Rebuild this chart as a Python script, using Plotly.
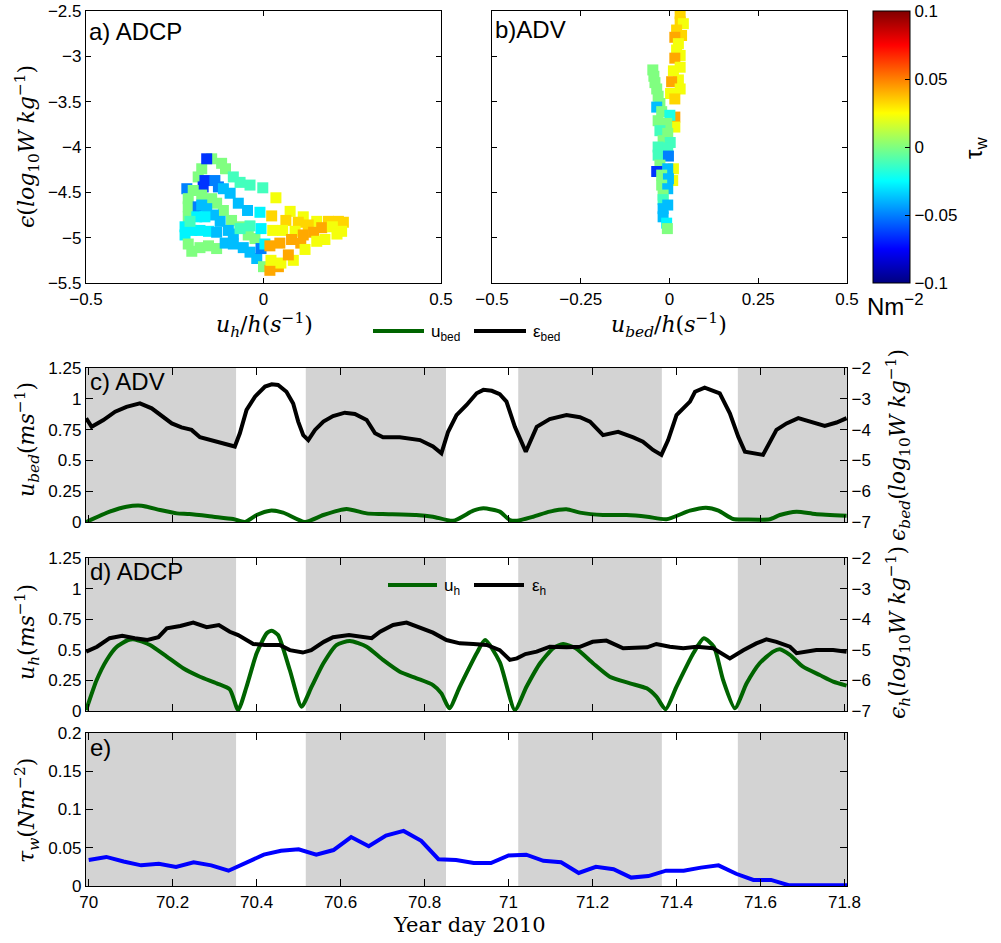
import plotly.graph_objects as go

W, H = 1001, 943

# ---------------- a) ADCP scatter: u_h/h vs eps_h, coloured by tau_w ----------------
adcp_u = [-0.146, -0.118, -0.174, -0.107, -0.184, -0.085, -0.066, -0.038, -0.002, 0.035,
          0.075, 0.112, 0.150, 0.183, 0.211, 0.225, -0.160, -0.165, -0.170, -0.137,
          -0.127, -0.113, -0.094, -0.071, -0.045, -0.010, 0.023, 0.063, 0.098, 0.126,
          0.164, 0.194, 0.220, 0.207, -0.216, -0.198, -0.212, -0.212, -0.212, -0.174,
          -0.146, -0.132, -0.113, -0.090, -0.066, -0.043, -0.024, -0.184, -0.174, -0.160,
          -0.141, -0.122, -0.099, -0.085, -0.066, -0.038, -0.007, 0.026, 0.054, 0.089,
          0.112, 0.141, 0.173, -0.221, -0.202, -0.179, -0.155, -0.132, -0.221, -0.188,
          -0.165, -0.207, -0.212, -0.202, -0.179, -0.155, -0.132, -0.108, -0.085, -0.057,
          -0.038, -0.019, -0.007, 0.004, 0.000, 0.018, 0.042, 0.021, 0.049, 0.084,
          0.070, 0.018, 0.046, 0.079, 0.105, 0.117, 0.150]
adcp_eps = [-4.13, -4.18, -4.24, -4.24, -4.33, -4.33, -4.39, -4.42, -4.45, -4.56,
            -4.71, -4.77, -4.82, -4.82, -4.82, -4.83, -4.13, -4.37, -4.44, -4.37,
            -4.44, -4.46, -4.51, -4.62, -4.70, -4.72, -4.76, -4.81, -4.83, -4.86,
            -4.89, -4.88, -4.93, -4.96, -4.46, -4.48, -4.57, -4.66, -4.77, -4.53,
            -4.57, -4.62, -4.70, -4.81, -4.88, -4.97, -5.01, -4.66, -4.64, -4.68,
            -4.75, -4.82, -4.92, -4.96, -4.90, -4.87, -4.90, -4.92, -4.92, -4.93,
            -4.97, -4.94, -5.02, -4.88, -4.92, -4.92, -4.93, -4.94, -4.97, -4.77,
            -4.77, -4.82, -5.07, -5.15, -5.11, -5.09, -5.12, -5.06, -5.07, -5.11,
            -5.16, -5.23, -5.12, -5.07, -5.32, -5.36, -5.32, -5.25, -5.28, -5.25,
            -5.19, -5.09, -5.06, -5.02, -5.06, -5.13, -5.04]
adcp_tau = [0.0, 0.0, 0.0, 0.0, 0.0, -0.012, -0.012, -0.012, -0.012, 0.023,
            0.023, 0.023, 0.023, 0.033, 0.033, 0.033, -0.065, -0.065, -0.065, -0.05,
            -0.05, -0.038, -0.038, -0.038, -0.038, -0.027, 0.033, 0.033, 0.033, 0.033,
            0.042, 0.023, 0.023, 0.023, -0.05, 0.0, 0.0, 0.0, 0.0, 0.0,
            0.0, 0.0, 0.0, 0.0, 0.0, 0.0, 0.0, -0.05, -0.038, -0.038,
            -0.038, -0.038, -0.038, -0.038, -0.012, -0.012, -0.027, 0.023, 0.023, 0.023,
            0.042, 0.042, 0.023, -0.027, -0.027, -0.027, -0.027, -0.038, -0.027, -0.027,
            -0.027, -0.012, 0.0, 0.0, 0.0, 0.0, 0.0, -0.038, -0.038, -0.038,
            -0.038, -0.038, -0.05, -0.027, 0.0, 0.042, 0.042, 0.023, 0.023, 0.023,
            0.042, 0.042, 0.042, 0.042, 0.042, 0.023, 0.023]

# ---------------- b) ADV scatter: u_bed/h vs eps_bed, coloured by tau_w ----------------
adv_u = [0.030, 0.030, 0.039, 0.020, 0.034, 0.015, 0.025, 0.020, 0.030, 0.015,
         0.030, 0.011, 0.025, 0.006, 0.030, 0.003, 0.015, 0.015, 0.015, 0.011,
         0.009, -0.047, -0.044, -0.041, -0.036, -0.032, -0.027, -0.036, -0.022, 0.001,
         -0.032, -0.008, -0.027, -0.005, -0.018, 0.002, -0.032, -0.005, -0.032, -0.003,
         -0.027, -0.005, -0.036, -0.022, -0.003, -0.022, -0.005, -0.018, -0.018, -0.018,
         -0.005, -0.018, -0.008, -0.006]
adv_eps = [-2.53, -2.62, -2.64, -2.71, -2.77, -2.79, -2.86, -2.93, -2.99, -3.02,
           -3.12, -3.16, -3.26, -3.28, -3.36, -3.41, -3.47, -3.67, -3.78, -4.24,
           -4.37, -3.15, -3.22, -3.29, -3.36, -3.44, -3.52, -3.56, -3.61, -3.65,
           -3.71, -3.74, -3.82, -3.85, -3.93, -3.95, -4.00, -4.01, -4.09, -4.10,
           -4.20, -4.24, -4.27, -4.31, -4.35, -4.42, -4.46, -4.53, -4.58, -4.68,
           -4.64, -4.77, -4.84, -4.90]
adv_tau = [0.033, 0.033, 0.023, 0.033, 0.033, 0.042, 0.023, 0.023, 0.023, 0.042,
           0.023, 0.023, 0.023, 0.042, 0.023, 0.023, 0.033, 0.042, 0.023, 0.023,
           0.023, 0.0, 0.0, 0.0, 0.0, 0.0, 0.0, -0.038, 0.0, -0.02,
           0.0, 0.0, -0.012, 0.0, 0.0, -0.012, -0.012, -0.012, -0.012, -0.05,
           0.0, -0.038, -0.065, 0.0, -0.038, 0.0, -0.038, 0.0, -0.012, -0.038,
           -0.038, -0.038, -0.027, 0.0]

# ---------------- c) ADV time series ----------------
ubed_day = [69.994, 70.05, 70.09, 70.126, 70.17, 70.21, 70.24, 70.297, 70.344, 70.372,
            70.4, 70.432, 70.463, 70.515, 70.559, 70.614, 70.662, 70.70, 70.78, 70.82,
            70.868, 70.916, 70.94, 70.979, 71.003, 71.02, 71.059, 71.098, 71.138, 71.17,
            71.225, 71.281, 71.33, 71.376, 71.432, 71.47, 71.5, 71.535, 71.565, 71.622,
            71.646, 71.686, 71.73, 71.805]
ubed = [0.0, 0.084, 0.124, 0.132, 0.097, 0.07, 0.065, 0.043, 0.024, 0.0,
        0.057, 0.092, 0.076, 0.0, 0.057, 0.105, 0.07, 0.065, 0.057, 0.043,
        0.01, 0.092, 0.111, 0.084, 0.016, 0.01, 0.043, 0.084, 0.103, 0.076,
        0.057, 0.057, 0.043, 0.022, 0.092, 0.116, 0.092, 0.024, 0.02, 0.022,
        0.057, 0.084, 0.065, 0.05]
epsbed_day = [69.994, 70.007, 70.035, 70.063, 70.09, 70.122, 70.15, 70.178, 70.198, 70.221,
              70.245, 70.265, 70.297, 70.32, 70.348, 70.36, 70.376, 70.396, 70.42, 70.436,
              70.451, 70.471, 70.487, 70.499, 70.511, 70.523, 70.539, 70.559, 70.582, 70.61,
              70.634, 70.662, 70.682, 70.701, 70.741, 70.789, 70.82, 70.84, 70.856, 70.876,
              70.9, 70.924, 70.94, 70.96, 70.979, 70.995, 71.015, 71.041, 71.067, 71.098,
              71.138, 71.17, 71.194, 71.225, 71.261, 71.297, 71.32, 71.344, 71.364, 71.38,
              71.4, 71.432, 71.444, 71.467, 71.503, 71.527, 71.547, 71.563, 71.586, 71.606,
              71.638, 71.662, 71.69, 71.721, 71.753, 71.781, 71.805]
eps_bed = [-3.63, -3.91, -3.69, -3.42, -3.26, -3.15, -3.31, -3.58, -3.80, -3.93,
           -4.01, -4.25, -4.36, -4.47, -4.55, -4.12, -3.36, -2.93, -2.60, -2.53,
           -2.55, -2.77, -3.15, -3.74, -4.18, -4.34, -4.01, -3.74, -3.56, -3.45,
           -3.49, -3.69, -4.12, -4.25, -4.25, -4.34, -4.55, -4.77, -4.07, -3.53,
           -3.20, -2.82, -2.71, -2.74, -2.85, -3.09, -3.91, -4.72, -3.91, -3.66,
           -3.53, -3.60, -3.74, -4.18, -4.07, -4.25, -4.39, -4.66, -4.82, -4.34,
           -3.53, -3.09, -2.77, -2.64, -2.82, -3.47, -4.23, -4.72, -4.77, -4.82,
           -4.01, -3.80, -3.63, -3.74, -3.88, -3.77, -3.63]

# ---------------- d) ADCP time series ----------------
uh_day = [69.994, 70.019, 70.043, 70.067, 70.094, 70.11, 70.146, 70.186, 70.225, 70.265,
          70.305, 70.336, 70.356, 70.376, 70.4, 70.424, 70.436, 70.451, 70.479, 70.507,
          70.531, 70.559, 70.59, 70.622, 70.662, 70.701, 70.741, 70.781, 70.82, 70.84,
          70.859, 70.884, 70.924, 70.944, 70.979, 71.015, 71.043, 71.075, 71.106, 71.13,
          71.16, 71.201, 71.241, 71.289, 71.329, 71.352, 71.374, 71.4, 71.44, 71.465,
          71.489, 71.511, 71.539, 71.567, 71.598, 71.63, 71.646, 71.67, 71.701, 71.741,
          71.773, 71.805]
uh = [0.008, 0.253, 0.417, 0.525, 0.58, 0.585, 0.539, 0.444, 0.349, 0.28,
      0.226, 0.177, 0.008, 0.199, 0.471, 0.635, 0.656, 0.621, 0.335, 0.035,
      0.199, 0.39, 0.539, 0.572, 0.525, 0.417, 0.321, 0.267, 0.212, 0.144,
      0.022, 0.199, 0.471, 0.58, 0.4, 0.008, 0.2, 0.39, 0.512, 0.547,
      0.512, 0.39, 0.28, 0.226, 0.185, 0.117, 0.014, 0.199, 0.471, 0.594,
      0.525, 0.253, 0.022, 0.226, 0.39, 0.485, 0.504, 0.458, 0.362, 0.294,
      0.24, 0.207]
epsh_day = [69.994, 70.02, 70.05, 70.08, 70.11, 70.14, 70.166, 70.186, 70.218, 70.249,
            70.281, 70.31, 70.336, 70.356, 70.392, 70.42, 70.455, 70.479, 70.51, 70.53,
            70.56, 70.582, 70.62, 70.646, 70.674, 70.694, 70.725, 70.757, 70.78, 70.82,
            70.852, 70.884, 70.916, 70.948, 70.979, 71.003, 71.02, 71.04, 71.067, 71.098,
            71.138, 71.17, 71.2, 71.233, 71.273, 71.297, 71.33, 71.352, 71.384, 71.416,
            71.448, 71.487, 71.527, 71.56, 71.59, 71.614, 71.638, 71.67, 71.686, 71.733,
            71.773, 71.805]
eps_h = [-5.06, -4.90, -4.62, -4.54, -4.62, -4.68, -4.59, -4.30, -4.22, -4.11,
         -4.26, -4.19, -4.41, -4.52, -4.81, -4.84, -4.84, -5.01, -5.09, -5.01,
         -4.74, -4.59, -4.52, -4.57, -4.62, -4.41, -4.19, -4.11, -4.22, -4.44,
         -4.68, -4.79, -4.81, -4.84, -5.01, -5.33, -5.28, -5.14, -5.06, -4.90,
         -4.92, -4.90, -4.74, -4.70, -4.95, -4.95, -4.92, -4.81, -4.90, -4.95,
         -4.90, -4.95, -5.28, -5.01, -4.79, -4.66, -4.74, -4.90, -5.11, -5.01,
         -5.01, -5.06]

# ---------------- e) hourly wind stress ----------------
tau_day = [70.000, 70.042, 70.083, 70.125, 70.167, 70.208, 70.250, 70.292, 70.333, 70.375,
           70.417, 70.458, 70.500, 70.542, 70.583, 70.625, 70.667, 70.708, 70.750, 70.792,
           70.833, 70.875, 70.917, 70.958, 71.000, 71.042, 71.083, 71.125, 71.167, 71.208,
           71.250, 71.292, 71.333, 71.375, 71.417, 71.458, 71.500, 71.542, 71.583, 71.625,
           71.667, 71.708, 71.750, 71.792, 71.833]
tau_w = [0.034, 0.038, 0.032, 0.027, 0.029, 0.025, 0.031, 0.027, 0.020, 0.030,
         0.041, 0.046, 0.048, 0.041, 0.047, 0.064, 0.052, 0.066, 0.072, 0.059,
         0.035, 0.034, 0.030, 0.030, 0.040, 0.041, 0.033, 0.031, 0.017, 0.025,
         0.022, 0.011, 0.013, 0.020, 0.020, 0.024, 0.027, 0.016, 0.008, 0.008,
         0.001, 0.001, 0.001, 0.001, 0.001]

# shaded periods on the time-series panels
shade_start = [69.98, 70.517, 71.023, 71.546]
shade_end = [70.351, 70.851, 71.365, 71.82]

day_range = [69.9936, 71.806]
day_ticks = [70, 70.2, 70.4, 70.6, 70.8, 71, 71.2, 71.4, 71.6, 71.8]
day_ticktext = ['70', '70.2', '70.4', '70.6', '70.8', '71', '71.2', '71.4', '71.6', '71.8']

# MATLAB-style jet colour map
jet = [[0.0, 'rgb(0,0,128)'], [0.125, 'rgb(0,0,255)'], [0.375, 'rgb(0,255,255)'],
       [0.625, 'rgb(255,255,0)'], [0.875, 'rgb(255,0,0)'], [1.0, 'rgb(128,0,0)']]

GREEN = '#006400'
SANS = 'Liberation Sans'
SERIF = 'DejaVu Serif'


def fx(p):
    return p / W


def fy(p):
    return 1 - p / H


tickfont = dict(family=SANS, size=17, color='black')
base = dict(showline=True, linecolor='black', linewidth=1.3, mirror='ticks',
            ticks='inside', ticklen=5, tickwidth=1, tickcolor='black',
            showgrid=False, zeroline=False, tickfont=tickfont)

fig = go.Figure()

fig.add_trace(go.Scatter(x=adcp_u, y=adcp_eps, mode='markers', xaxis='x', yaxis='y',
                         marker=dict(symbol='square', size=11, color=adcp_tau,
                                     coloraxis='coloraxis', line=dict(width=0)),
                         showlegend=False))
fig.add_trace(go.Scatter(x=adv_u, y=adv_eps, mode='markers', xaxis='x2', yaxis='y2',
                         marker=dict(symbol='square', size=11, color=adv_tau,
                                     coloraxis='coloraxis', line=dict(width=0)),
                         showlegend=False))

# c) ADV
fig.add_trace(go.Scatter(x=ubed_day, y=ubed, mode='lines', xaxis='x3', yaxis='y3',
                         line=dict(color=GREEN, width=4, shape='spline', smoothing=0.6),
                         name='u<sub>bed</sub>', showlegend=False))
fig.add_trace(go.Scatter(x=epsbed_day, y=eps_bed, mode='lines', xaxis='x3', yaxis='y4',
                         line=dict(color='black', width=4),
                         name='ε<sub>bed</sub>', showlegend=False))
# d) ADCP
fig.add_trace(go.Scatter(x=uh_day, y=uh, mode='lines', xaxis='x4', yaxis='y5',
                         line=dict(color=GREEN, width=4, shape='spline', smoothing=0.6),
                         name='u<sub>h</sub>', showlegend=False))
fig.add_trace(go.Scatter(x=epsh_day, y=eps_h, mode='lines', xaxis='x4', yaxis='y6',
                         line=dict(color='black', width=4),
                         name='ε<sub>h</sub>', showlegend=False))
# e) wind stress
fig.add_trace(go.Scatter(x=tau_day, y=tau_w, mode='lines', xaxis='x5', yaxis='y7',
                         line=dict(color='#0000ff', width=4), showlegend=False))

shapes = []
for xr, yr in [('x3', 'y3'), ('x4', 'y5'), ('x5', 'y7')]:
    for s0, s1 in zip(shade_start, shade_end):
        shapes.append(dict(type='rect', xref=xr, yref=yr + ' domain', x0=s0, x1=s1,
                           y0=0, y1=1, fillcolor='#d3d3d3', line=dict(width=0),
                           layer='below'))

# panel geometry in pixels
ax_l, ax_r = 86, 847
a_r, b_l = 441, 492
top_y = (11, 283)
c_y = (368, 522)
d_y = (558, 711)
e_y = (733, 886)

layout = dict(
    width=W, height=H, margin=dict(l=0, r=0, t=0, b=0, autoexpand=False),
    paper_bgcolor='white', plot_bgcolor='white',
    font=dict(family=SANS, size=16, color='black'),
    showlegend=False,
    coloraxis=dict(colorscale=jet, cmin=-0.1, cmax=0.1,
                   colorbar=dict(x=fx(873), xanchor='left', xpad=0, ypad=0,
                                 y=fy((top_y[0] + top_y[1]) / 2), yanchor='middle',
                                 len=(top_y[1] - top_y[0]) / H, lenmode='fraction',
                                 thickness=37, thicknessmode='pixels',
                                 outlinecolor='black', outlinewidth=1,
                                 ticks='inside', ticklen=5, tickcolor='black',
                                 tickvals=[-0.1, -0.05, 0, 0.05, 0.1],
                                 ticktext=['−0.1', '−0.05', '0', '0.05', '0.1'],
                                 tickfont=tickfont)),
    xaxis=dict(base, domain=[fx(ax_l), fx(a_r)], range=[-0.5, 0.5], anchor='y',
               tickvals=[-0.5, 0, 0.5], ticktext=['−0.5', '0', '0.5']),
    yaxis=dict(base, domain=[fy(top_y[1]), fy(top_y[0])], range=[-5.5, -2.5], anchor='x',
               tickvals=[-5.5, -5, -4.5, -4, -3.5, -3, -2.5],
               ticktext=['−5.5', '−5', '−4.5', '−4', '−3.5', '−3', '−2.5']),
    xaxis2=dict(base, domain=[fx(b_l), fx(ax_r)], range=[-0.5, 0.5], anchor='y2',
                tickvals=[-0.5, -0.25, 0, 0.25, 0.5],
                ticktext=['−0.5', '−0.25', '0', '0.25', '0.5']),
    yaxis2=dict(base, domain=[fy(top_y[1]), fy(top_y[0])], range=[-5.5, -2.5], anchor='x2',
                tickvals=[-5.5, -5, -4.5, -4, -3.5, -3, -2.5], showticklabels=False),
    xaxis3=dict(base, domain=[fx(ax_l), fx(ax_r)], range=day_range, anchor='y3',
                tickvals=day_ticks, showticklabels=False, ticklen=7),
    yaxis3=dict(base, domain=[fy(c_y[1]), fy(c_y[0])], range=[0, 1.25], anchor='x3',
                tickvals=[0, 0.25, 0.5, 0.75, 1, 1.25],
                ticktext=['0', '0.25', '0.5', '0.75', '1', '1.25'], ticklen=7),
    yaxis4=dict(base, overlaying='y3', side='right', anchor='x3', range=[-7, -2], mirror=False,
                tickvals=[-7, -6, -5, -4, -3, -2],
                ticktext=['−7', '−6', '−5', '−4', '−3', '−2'], ticklen=7),
    xaxis4=dict(base, domain=[fx(ax_l), fx(ax_r)], range=day_range, anchor='y5',
                tickvals=day_ticks, showticklabels=False, ticklen=7),
    yaxis5=dict(base, domain=[fy(d_y[1]), fy(d_y[0])], range=[0, 1.25], anchor='x4',
                tickvals=[0, 0.25, 0.5, 0.75, 1, 1.25],
                ticktext=['0', '0.25', '0.5', '0.75', '1', '1.25'], ticklen=7),
    yaxis6=dict(base, overlaying='y5', side='right', anchor='x4', range=[-7, -2], mirror=False,
                tickvals=[-7, -6, -5, -4, -3, -2],
                ticktext=['−7', '−6', '−5', '−4', '−3', '−2'], ticklen=7),
    xaxis5=dict(base, domain=[fx(ax_l), fx(ax_r)], range=day_range, anchor='y7',
                tickvals=day_ticks, ticktext=day_ticktext, ticklen=7),
    yaxis7=dict(base, domain=[fy(e_y[1]), fy(e_y[0])], range=[0, 0.2], anchor='x5',
                tickvals=[0, 0.05, 0.1, 0.15, 0.2],
                ticktext=['0', '0.05', '0.1', '0.15', '0.2'], ticklen=7),
)
fig.update_layout(**layout)

ann = []


def label(text, x, y, size=24, family=SANS, angle=0, xanchor='left'):
    ann.append(dict(text=text, x=fx(x), y=fy(y), xref='paper', yref='paper',
                    xanchor=xanchor, yanchor='middle', showarrow=False, textangle=angle,
                    font=dict(family=family, size=size, color='black')))


# panel letters
label('a) ADCP', 87, 31)
label('b)ADV', 493, 30)
label('c) ADV', 88, 381)
label('d) ADCP', 88, 571)
label('e)', 88, 747)

eps_units = '(<i>log</i><sub>10</sub><i>W kg</i><sup>−1</sup>)'
label('<i>ϵ</i>' + eps_units, 27, 147, size=22, family=SERIF, angle=-90, xanchor='center')
label('<i>u<sub>h</sub></i>/<i>h</i>(<i>s</i><sup>−1</sup>)', 264, 325, size=22, family=SERIF,
      xanchor='center')
label('<i>u<sub>bed</sub></i>/<i>h</i>(<i>s</i><sup>−1</sup>)', 669, 325, size=22, family=SERIF,
      xanchor='center')
label('<i>u<sub>bed</sub></i>(<i>ms</i><sup>−1</sup>)', 27, 440, size=22, family=SERIF,
      angle=-90, xanchor='center')
label('<i>ϵ<sub>bed</sub></i>' + eps_units, 898, 445, size=22, family=SERIF, angle=-90,
      xanchor='center')
label('<i>u<sub>h</sub></i>(<i>ms</i><sup>−1</sup>)', 27, 632, size=22, family=SERIF,
      angle=-90, xanchor='center')
label('<i>ϵ<sub>h</sub></i>' + eps_units, 898, 633, size=22, family=SERIF, angle=-90,
      xanchor='center')
label('<i>τ<sub>w</sub></i>(<i>Nm</i><sup>−2</sup>)', 27, 811, size=22, family=SERIF,
      angle=-90, xanchor='center')
label('Year day 2010', 469, 925, size=21, family=SERIF, xanchor='center')

# colour bar labels
label('τ<sub>w</sub>', 975, 148, size=24, angle=-90, xanchor='center')
label('Nm<sup>−2</sup>', 895, 305, size=24, xanchor='center')

# legend keys for panels c and d
legend_keys = [
    (373, 424, 331, GREEN, 'u<sub>bed</sub>', 429),
    (474, 526, 331, 'black', 'ε<sub>bed</sub>', 531),
    (388, 437, 585, GREEN, 'u<sub>h</sub>', 442),
    (474, 524, 585, 'black', 'ε<sub>h</sub>', 530),
]
key_shapes = []
for x0, x1, yk, col, txt, xt in legend_keys:
    key_shapes.append(dict(type='line', xref='paper', yref='paper', x0=fx(x0), x1=fx(x1),
                           y0=fy(yk), y1=fy(yk), line=dict(color=col, width=4)))
    label(txt, xt, yk + 2, size=17)

fig.update_layout(annotations=ann, shapes=shapes + key_shapes)

fig.write_html('out.html')
